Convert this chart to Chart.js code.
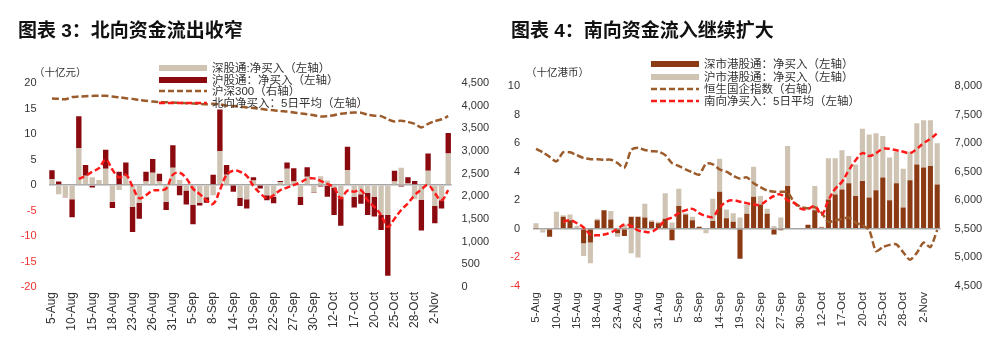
<!DOCTYPE html>
<html>
<head>
<meta charset="utf-8">
<title>南北向资金</title>
<script src="https://cdn.jsdelivr.net/npm/chart.js@4.4.0/dist/chart.umd.min.js"></script>
<style>
  body { margin: 0; background: #fff; }
  #wrap { position: relative; width: 998px; height: 358px; overflow: hidden;
          font-family: Arial, "Liberation Sans", "Noto Sans CJK SC", sans-serif; color: #222; }
  .title { position: absolute; top: 21px; font-size: 19px; line-height: 19px; font-weight: 700; color: #111; white-space: nowrap; }
  .unit { position: absolute; top: 66px; font-size: 10.5px; line-height: 12px; color: #333; white-space: nowrap; }
  .leg { position: absolute; height: 12px; line-height: 12px; font-size: 11.5px; color: #333; white-space: nowrap; }
  .leg svg { position: absolute; left: 0; top: 0; }
  .leg span { position: absolute; left: 53px; top: 0; }
  canvas { position: absolute; top: 0; }
</style>
</head>
<body>
<div id="wrap">
  <canvas id="north" width="499" height="358" style="left:0"></canvas>
  <canvas id="south" width="499" height="358" style="left:499px"></canvas>
  <div class="title" style="left:18px">图表 3：北向资金流出收窄</div>
  <div class="title" style="left:511px">图表 4：南向资金流入继续扩大</div>
  <div class="unit" style="left:34px">（十亿元）</div>
  <div class="unit" style="left:526px">（十亿港币）</div>
</div>
<script>
// x axis: one label every 3 trading days
var dateTicks = ['5-Aug', '10-Aug', '15-Aug', '18-Aug', '23-Aug', '26-Aug', '31-Aug', '5-Sep', '8-Sep', '14-Sep',
  '19-Sep', '22-Sep', '27-Sep', '30-Sep', '12-Oct', '17-Oct', '20-Oct', '25-Oct', '28-Oct', '2-Nov'];
var categories = [];
dateTicks.forEach(function(d) { categories.push(d, '', ''); });

// 北向 (十亿元)
var szNorth = [1.2, -1.8, -2.3, -2.8, 7.2, 1.8, 1.5, 1.0, 3.2, -3.3,
  -1.0, 1.8, -4.3, -3.5, 0.7, 2.4, 0.7, -3.3, 3.4, 1.0,
  -1.1, -3.9, -3.5, -2.4, -2.0, 6.6, 2.0, -0.1, -2.5, -2.8,
  0.9, -0.1, -2.0, -2.3, 0.6, 3.2, 0.7, -2.3, 1.6, -1.4,
  1.7, 0.9, -0.5, -2.6, 2.9, -2.3, -1.8, -1.5, -2.3, -5.9,
  -5.9, 0.7, 3.4, 0.3, -2.8, -2.9, 2.8, -4.1, -3.0, 6.2];
var shNorth = [1.7, 0.7, -0.1, -3.5, 6.3, 2.1, -0.5, 0, 3.7, -1.2,
  2.6, 2.6, -4.9, -3.1, 1.9, 2.7, 1.5, -1.6, 4.4, -2.0,
  -2.7, -3.8, -0.5, -1.1, 2.0, 8.2, 1.9, -1.2, -1.6, -1.8,
  0.6, -0.6, -1.0, -1.3, 0.2, 1.2, 2.6, -1.6, 1.9, -0.1,
  -0.3, -2.3, -5.4, -5.4, 4.6, -2.1, -1.9, -4.4, -3.9, -2.9,
  -11.9, 2.1, -0.3, 1.2, 0.8, -6.0, 3.4, -3.4, -1.6, 4.0];
var northMa5 = [null, null, null, null, 1.2, 1.8, 2.6, 3.3, 5.0, 3.0,
  1.5, 2.0, -0.3, -2.6, -2.0, -1.1, -1.0, -0.7, 2.0, 2.4,
  1.3, -0.7, -1.8, -3.0, -3.7, -1.0, 2.0, 2.8, 2.6, 1.8,
  -0.2, -1.6, -2.6, -2.0, -1.0, -0.5, 0, 0.5, 1.2, 1.3,
  0.8, 0.2, -0.5, -2.6, -1.1, -1.3, -1.0, -3.0, -4.3, -5.9,
  -8.2, -6.6, -4.9, -3.6, -2.0, -0.9, 0, -1.6, -3.0, -1.0];
var csi300 = [4160, 4150, 4140, 4190, 4200, 4210, 4215, 4220, 4220, 4200,
  4185, 4165, 4150, 4125, 4110, 4090, 4080, 4075, 4070, 4060,
  4055, 4050, 4040, 4030, 4040, 4030, 4000, 3990, 3980, 3960,
  3950, 3930, 3910, 3900, 3880, 3870, 3850, 3830, 3810, 3790,
  3760, 3770, 3790, 3820, 3840, 3850, 3846, 3800, 3780, 3770,
  3700, 3650, 3670, 3640, 3600, 3520, 3600, 3660, 3700, 3770];

// 南向 (十亿港币)
var szSouth = [0.05, -0.05, -0.55, 0, 0.85, 0.6, 0, -1.0, -0.95, 0.6,
  1.3, 0.65, -0.3, -0.5, 0.85, 0.85, 0.8, 0.5, 0.4, 0.7,
  -0.8, 1.6, 1.0, 0.6, 0.15, 0, 0.55, 2.6, 0.75, 0.5,
  -2.1, 1.05, 2.25, 1.7, 1.05, -0.4, -0.1, 3.0, 0, 0,
  0.28, 1.3, 0.1, 2.05, 2.4, 2.75, 3.2, 2.3, 3.35, 2.2,
  2.7, 3.6, 2.0, 3.2, 1.5, 3.4, 4.5, 4.3, 4.4, 3.1];
var shSouth = [0.35, -0.2, 0, 1.2, 0.1, 0.4, 0.2, -0.9, -1.45, 0.1,
  0, 0.6, -0.25, 0.3, -1.7, -2.0, 0.95, 0.1, 0.1, 1.8,
  0.45, 1.2, 0.1, 0.25, 0, -0.3, 1.55, 2.3, 0.6, 0.6,
  0.8, 0.65, 2.1, 0.6, 0.35, 0.2, 0.8, 2.8, 0, 0,
  0, 1.7, 0.05, 2.9, 2.55, 2.75, 1.9, 2.2, 3.65, 4.4,
  4.0, 2.9, 3.0, 2.2, 2.7, 2.0, 2.9, 3.3, 3.2, 2.9];
var southMa5 = [null, null, null, null, 0.5, 0.6, 0.4, 0.1, -0.4, -0.45,
  -0.4, -0.25, 0.0, 0.3, 0.2, -0.1, -0.2, -0.2, 0.1, 0.6,
  0.8, 1.1, 1.3, 1.4, 1.1, 0.9, 0.85, 1.5, 1.9, 2.0,
  1.9, 1.8, 1.7, 1.7, 2.0, 2.3, 2.4, 2.0, 1.8, 1.4,
  1.4, 1.6, 1.0, 2.0, 2.8, 3.3, 4.1, 4.8, 5.3, 5.1,
  5.3, 5.6, 5.6, 5.5, 5.4, 5.3, 5.6, 6.0, 6.3, 6.7];
var hscei = [6900, 6840, 6760, 6680, 6840, 6840, 6790, 6740, 6720, 6720,
  6710, 6710, 6650, 6570, 6880, 6920, 6880, 6860, 6850, 6790,
  6650, 6600, 6540, 6490, 6450, 6640, 6630, 6540, 6500, 6430,
  6380, 6400, 6300, 6230, 6170, 6150, 6150, 6140, 5960, 5880,
  5860, 5880, 5780, 5620, 5650, 5670, 5700, 5610, 5560, 5480,
  5110, 5180, 5220, 5230, 5090, 4960, 5080, 5260, 5180, 5480];

var BEIGE = '#cfc3b3';
var DARKRED = '#8b0a10';
var BROWN = '#8b3a14';
var DASHBROWN = '#9c5b2b';
var RED = '#ff1a1a';
var NEG = '#f03232';

Chart.defaults.font.family = 'Arial, "Liberation Sans", "Noto Sans CJK SC", sans-serif';

function lineSet(label, data, axis, color, dash, tension, order) {
  return { type: 'line', label: label, data: data, yAxisID: axis, stack: label,
    borderColor: color, borderWidth: 2.5, borderDash: dash, pointRadius: 0,
    tension: tension, fill: false, order: order, spanGaps: false };
}

function barSet(label, data, color, pct) {
  return { label: label, data: data, yAxisID: 'y', backgroundColor: color,
    barPercentage: pct, categoryPercentage: 1, order: 2 };
}

function options(o) {
  return {
    responsive: false,
    animation: false,
    layout: { padding: { top: o.top, left: 0, right: 0, bottom: 0 } },
    plugins: { legend: { display: false }, tooltip: { enabled: false } },
    scales: {
      x: {
        stacked: true, offset: true,
        grid: { display: false, drawTicks: false }, border: { display: false },
        ticks: { autoSkip: false, minRotation: 90, maxRotation: 90, padding: o.xPad,
          color: '#333', font: { size: o.xFont } },
        afterFit: function(s) { s.height = 358 - o.bottom; }
      },
      y: {
        stacked: true, position: 'left', min: o.min, max: o.max,
        ticks: { stepSize: o.step, padding: o.leftPad, font: { size: 11 },
          color: function(c) { return c.tick.value < 0 ? NEG : '#333'; } },
        grid: { drawTicks: false, lineWidth: 1.5,
          color: function(c) { return c.tick.value === 0 ? '#a6a6a6' : 'rgba(0,0,0,0)'; } },
        border: { display: false },
        afterFit: function(s) { s.width = o.leftW; }
      },
      y1: {
        position: 'right', min: o.rMin, max: o.rMax,
        ticks: { stepSize: 500, padding: o.rightPad, color: '#333', font: { size: 11 },
          callback: function(v) { return v.toLocaleString('en-US'); } },
        grid: { display: false, drawTicks: false }, border: { display: false },
        afterFit: function(s) { s.width = o.rightW; }
      }
    }
  };
}

new Chart(document.getElementById('north'), {
  type: 'bar',
  data: {
    labels: categories,
    datasets: [
      barSet('深股通:净买入（左轴）', szNorth, BEIGE, 0.8),
      barSet('沪股通：净买入（左轴）', shNorth, DARKRED, 0.8),
      lineSet('沪深300（右轴）', csi300, 'y1', DASHBROWN, [7, 3], 0.25, 1),
      lineSet('北向净买入：5日平均（左轴）', northMa5, 'y', RED, [6, 3], 0.4, 0)
    ]
  },
  options: options({ top: 83, bottom: 287, min: -20, max: 20, step: 5, rMin: 0, rMax: 4500,
    leftW: 48.6, rightW: 47.4, leftPad: 12, rightPad: 10, xPad: 5, xFont: 12 })
});

new Chart(document.getElementById('south'), {
  type: 'bar',
  data: {
    labels: categories,
    datasets: [
      barSet('深市港股通：净买入（左轴）', szSouth, BROWN, 0.75),
      barSet('沪市港股通：净买入（左轴）', shSouth, BEIGE, 0.75),
      lineSet('恒生国企指数（右轴）', hscei, 'y1', DASHBROWN, [7, 3], 0.25, 1),
      lineSet('南向净买入：5日平均（左轴）', southMa5, 'y', RED, [6, 3], 0.4, 0)
    ]
  },
  options: options({ top: 86, bottom: 286, min: -4, max: 10, step: 2, rMin: 4500, rMax: 8000,
    leftW: 33.6, rightW: 57.4, leftPad: 12.6, rightPad: 14, xPad: 6, xFont: 11.5 })
});

// legends (drawn over the plot, as in the source)
function swatch(kind, color) {
  if (kind === 'box') {
    return '<svg width="48" height="12"><rect x="0" y="3" width="48" height="6" fill="' + color + '"/></svg>';
  }
  return '<svg width="48" height="12"><line x1="0" y1="6" x2="48" y2="6" stroke="' + color +
    '" stroke-width="2.5" stroke-dasharray="6,3"/></svg>';
}

function legend(x, rows) {
  var wrap = document.getElementById('wrap');
  rows.forEach(function(r) {
    var d = document.createElement('div');
    d.className = 'leg';
    d.style.left = x + 'px';
    d.style.top = (r.y - 6) + 'px';
    d.innerHTML = swatch(r.kind, r.color) + '<span>' + r.label + '</span>';
    wrap.appendChild(d);
  });
}

legend(159, [
  { y: 67.5, kind: 'box', color: BEIGE, label: '深股通:净买入（左轴）' },
  { y: 79.8, kind: 'box', color: DARKRED, label: '沪股通：净买入（左轴）' },
  { y: 90.8, kind: 'dash', color: DASHBROWN, label: '沪深300（右轴）' },
  { y: 102.8, kind: 'dash', color: RED, label: '北向净买入：5日平均（左轴）' }
]);

legend(651, [
  { y: 63.8, kind: 'box', color: BROWN, label: '深市港股通：净买入（左轴）' },
  { y: 76.7, kind: 'box', color: BEIGE, label: '沪市港股通：净买入（左轴）' },
  { y: 89.2, kind: 'dash', color: DASHBROWN, label: '恒生国企指数（右轴）' },
  { y: 100.8, kind: 'dash', color: RED, label: '南向净买入：5日平均（左轴）' }
]);
</script>
</body>
</html>
